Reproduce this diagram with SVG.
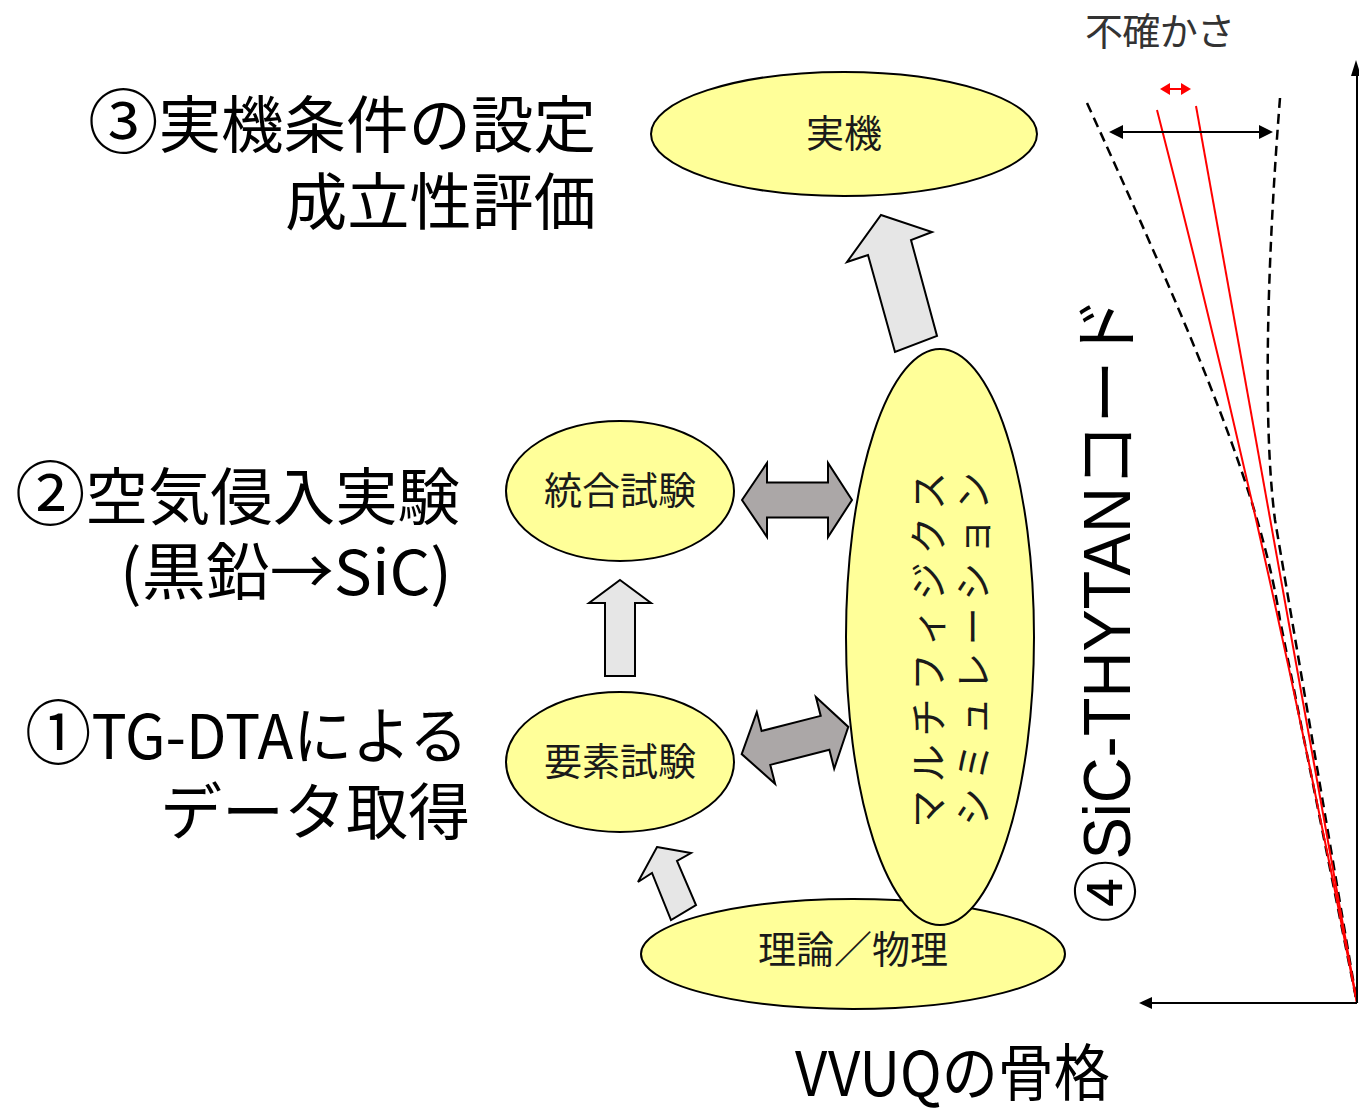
<svg xmlns="http://www.w3.org/2000/svg" width="1359" height="1108" viewBox="0 0 1359 1108">
<style>
.node ellipse{fill:#ffff99;stroke:#000;stroke-width:2}
.lbl{font-family:"Noto Sans CJK JP","Noto Sans",sans-serif;font-size:38px;fill:#1a1a1a;text-anchor:middle}
.big{font-family:"Noto Sans CJK JP","Noto Sans",sans-serif;font-size:62px;fill:#000;text-anchor:end}
.cd{font-size:70px}
.mp{font-family:"Noto Sans CJK JP",sans-serif;font-size:38px;fill:#1a1a1a}
.arrL{fill:#e6e6e6;stroke:#000;stroke-width:2;stroke-linejoin:miter}
.arrD{fill:#aba7a7;stroke:#000;stroke-width:2;stroke-linejoin:miter}
.dash{fill:none;stroke:#000;stroke-width:2.5;stroke-dasharray:10,6}
.red{fill:none;stroke:#ff0000;stroke-width:2}
.ax{fill:none;stroke:#000;stroke-width:2}
</style>
<rect width="1359" height="1108" fill="#fff"/>

<g id="labels">
<text class="big" x="596" y="148" textLength="508" lengthAdjust="spacingAndGlyphs"><tspan class="cd">③</tspan>実機条件の設定</text>
<text class="big" x="596" y="225" textLength="311" lengthAdjust="spacingAndGlyphs">成立性評価</text>
<text class="big" x="460" y="520" textLength="445" lengthAdjust="spacingAndGlyphs"><tspan class="cd">②</tspan>空気侵入実験</text>
<text class="big" x="452" y="595" textLength="332" lengthAdjust="spacingAndGlyphs">(黒鉛→SiC)</text>
<text class="big" x="468" y="759" textLength="443" lengthAdjust="spacingAndGlyphs"><tspan class="cd">①</tspan>TG-DTAによる</text>
<text class="big" x="470" y="835" textLength="310" lengthAdjust="spacing">データ取得</text>
<text class="big" x="1110" y="1096" textLength="315" lengthAdjust="spacingAndGlyphs">VVUQの骨格</text>
<text x="1085" y="45" font-family="'Noto Sans CJK JP',sans-serif" font-size="38" fill="#333" textLength="150">不確かさ</text>
<text transform="translate(1130,923) rotate(-90)" font-family="'Liberation Sans','Noto Sans CJK JP',sans-serif" font-size="66" fill="#000" textLength="626" lengthAdjust="spacingAndGlyphs">④SiC-THYTANコード</text>
</g>

<g id="node-jikki" class="node">
<ellipse cx="844" cy="134" rx="193" ry="62"/>
<text class="lbl" x="844" y="147">実機</text>
</g>
<g id="node-tougou" class="node">
<ellipse cx="620" cy="491" rx="114" ry="70"/>
<text class="lbl" x="620" y="504">統合試験</text>
</g>
<g id="node-youso" class="node">
<ellipse cx="620" cy="762" rx="114" ry="70"/>
<text class="lbl" x="620" y="775">要素試験</text>
</g>
<g id="node-riron" class="node">
<ellipse cx="853" cy="954" rx="212" ry="55"/>
<text class="lbl" x="853" y="963">理論／物理</text>
</g>
<g id="node-multiphysics" class="node">
<ellipse cx="940" cy="637" rx="94" ry="288"/>
<text class="mp" transform="translate(925,828) rotate(-90)" dominant-baseline="central" textLength="356" lengthAdjust="spacing">マルチフィジクス</text>
<text class="mp" transform="translate(970,826) rotate(-90)" dominant-baseline="central" textLength="354" lengthAdjust="spacing">シミュレーション</text>
</g>

<g id="connectors">
<polygon class="arrL" points="881,215 932,232 911,240 937,336 895,352 868,255 847,262"/>
<polygon class="arrL" points="620,580 651,603 635,603 635,676 605,676 605,603 589,603"/>
<polygon class="arrL" points="657,847 691,853 677,861 696,905 671,920 652,873 638,882"/>
<path class="arrD" transform="translate(797,500)" d="M-55,0 L-30,-37 L-30,-17.5 L31,-17.5 L31,-37 L55,0 L31,37 L31,17.5 L-30,17.5 L-30,37 Z"/>
<path class="arrD" transform="translate(795,740.5) rotate(-14.3)" d="M-55,0 L-30,-37 L-30,-17.5 L31,-17.5 L31,-37 L55,0 L31,37 L31,17.5 L-30,17.5 L-30,37 Z"/>
</g>

<g id="uncertainty">
<path class="dash" d="M1087,103 C1200,350 1262,500 1280,620 L1357,1003"/>
<path class="dash" d="M1280,98 C1268,250 1262,420 1275,520 L1357,1003"/>
<path class="red" d="M1157,110 Q1268,540 1357,1003"/>
<path class="red" d="M1196,106 L1357,1003"/>
<line class="ax" x1="1120" y1="132" x2="1262" y2="132"/>
<polygon points="1109,132 1123,125 1123,139" fill="#000"/>
<polygon points="1273,132 1259,125 1259,139" fill="#000"/>
<line x1="1168" y1="89" x2="1183" y2="89" stroke="#ff0000" stroke-width="2"/>
<polygon points="1160,89 1170,83 1170,95" fill="#ff0000"/>
<polygon points="1191,89 1181,83 1181,95" fill="#ff0000"/>
<line class="ax" x1="1357" y1="1003" x2="1357" y2="72"/>
<polygon points="1356,60 1351,76 1361,76" fill="#000"/>
<line class="ax" x1="1357" y1="1003" x2="1150" y2="1003"/>
<polygon points="1139,1003 1152,997 1152,1009" fill="#000"/>
</g>
</svg>
